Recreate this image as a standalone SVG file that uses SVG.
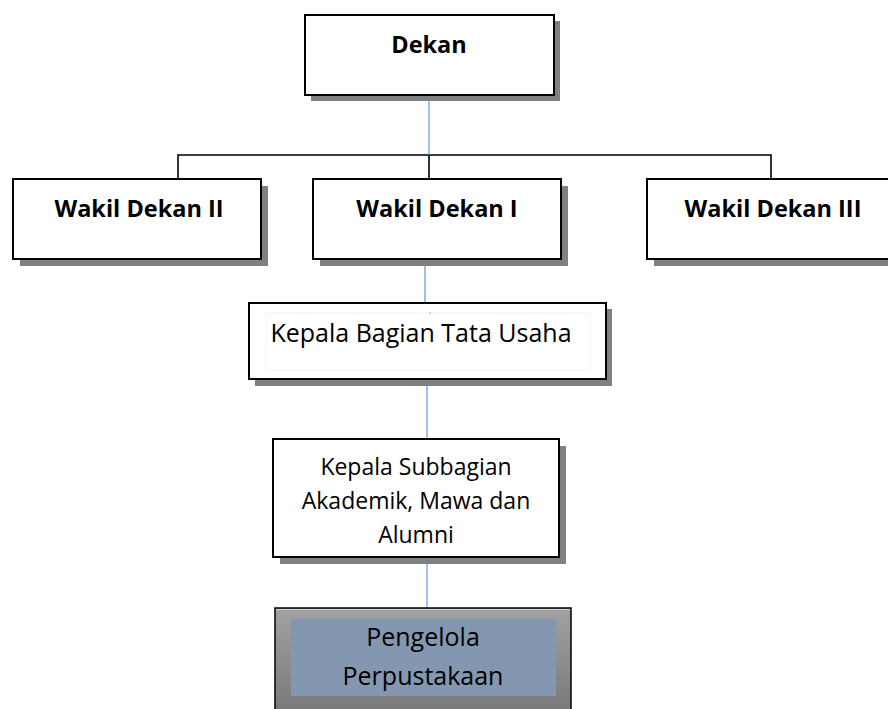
<svg xmlns="http://www.w3.org/2000/svg" width="888" height="709" viewBox="0 0 888 709">
  <defs>
    <linearGradient id="grayFill" x1="0" y1="0" x2="0" y2="1">
      <stop offset="0" stop-color="#a2a2a2"/>
      <stop offset="1" stop-color="#767676"/>
    </linearGradient>
  </defs>
  <style>
    .box { fill: #ffffff; stroke: #000000; stroke-width: 2; }
    .shadow { fill: #808080; }
    .lbl { font-family: "Open Sans", "Liberation Sans", sans-serif; fill: #000000; text-anchor: middle; }
    .b { font-weight: bold; font-size: 23.5px; }
    .r { font-size: 25px; }
    .s { font-size: 23px; }
    .blue { stroke: #5b9bd5; stroke-width: 1.2; fill: none; }
    .black { stroke: #000000; stroke-width: 1.6; fill: none; }
  </style>

  <!-- connectors -->
  <g id="connectors">
    <path class="black" d="M178,179 V155 H771 V179"/>
    <line class="black" x1="429" y1="155" x2="429" y2="179"/>
    <line class="blue" x1="429" y1="95" x2="429" y2="155"/>
    <line class="blue" x1="425" y1="257" x2="425" y2="303"/>
    <line class="blue" x1="427" y1="380" x2="427" y2="439"/>
    <line class="blue" x1="427" y1="557" x2="427" y2="615"/>
  </g>

  <!-- Dekan -->
  <g id="dekan">
    <rect class="shadow" x="311" y="21" width="249" height="80"/>
    <rect class="box" x="305" y="15" width="249" height="80"/>
    <text class="lbl b" x="429" y="53">Dekan</text>
  </g>

  <!-- Wakil Dekan II -->
  <g id="wakil-dekan-2">
    <rect class="shadow" x="20" y="186" width="248" height="80"/>
    <rect class="box" x="13" y="179" width="248" height="80"/>
    <text class="lbl b" x="139" y="217">Wakil Dekan II</text>
  </g>

  <!-- Wakil Dekan I -->
  <g id="wakil-dekan-1">
    <rect class="shadow" x="320" y="186" width="248" height="80"/>
    <rect class="box" x="313" y="179" width="248" height="80"/>
    <text class="lbl b" x="437" y="217">Wakil Dekan I</text>
  </g>

  <!-- Wakil Dekan III -->
  <g id="wakil-dekan-3">
    <rect class="shadow" x="654" y="186" width="248" height="80"/>
    <rect class="box" x="647" y="179" width="248" height="80"/>
    <text class="lbl b" x="773" y="217">Wakil Dekan III</text>
  </g>

  <!-- Kepala Bagian Tata Usaha -->
  <g id="kabag-tu">
    <rect class="shadow" x="255" y="309" width="357" height="77"/>
    <rect class="box" x="249" y="303" width="357" height="76"/>
    <rect x="266" y="313" width="324" height="57" fill="none" stroke="#f3f3f3" stroke-width="1"/>
    <rect x="429.5" y="312.5" width="1.2" height="1.2" fill="#5b9bd5"/>
    <text class="lbl r" x="421" y="342">Kepala Bagian Tata Usaha</text>
  </g>

  <!-- Kepala Subbagian Akademik, Mawa dan Alumni -->
  <g id="kasubbag-akademik">
    <rect class="shadow" x="280" y="446" width="286" height="118"/>
    <rect class="box" x="273" y="439" width="286" height="118"/>
    <text class="lbl s" x="416" y="475">Kepala Subbagian</text>
    <text class="lbl s" x="416" y="509">Akademik, Mawa dan</text>
    <text class="lbl s" x="416" y="543">Alumni</text>
  </g>

  <!-- Pengelola Perpustakaan -->
  <g id="pengelola-perpustakaan">
    <rect x="275" y="608" width="296" height="110" fill="url(#grayFill)" stroke="#000000" stroke-width="1.5"/>
    <line x1="276" y1="609.5" x2="570" y2="609.5" stroke="#d0d0d0" stroke-width="1"/>
    <rect x="291" y="619" width="265" height="77" fill="#8497b0"/>
    <text class="lbl r" x="423" y="646">Pengelola</text>
    <text class="lbl r" x="423" y="685">Perpustakaan</text>
  </g>
</svg>
